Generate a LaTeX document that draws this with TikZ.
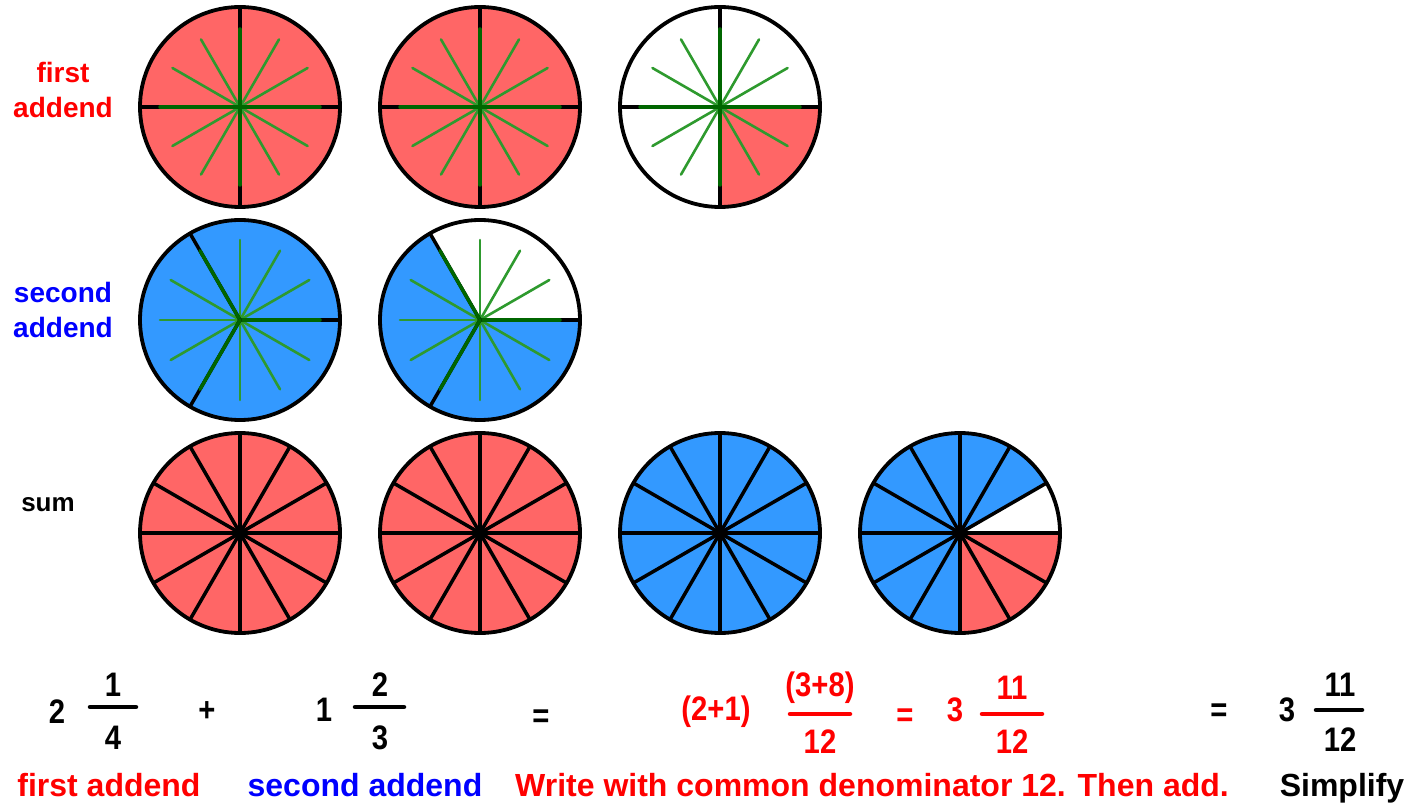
\documentclass[tikz,border=0pt]{standalone}
\usepackage{fontspec}
\setmainfont{Liberation Sans}
\newfontfamily\eqfont[FakeStretch=0.86]{Liberation Sans}
\usetikzlibrary{arrows.meta,calc,positioning}
\definecolor{pie-red}{HTML}{FF6666}
\definecolor{pie-blue}{HTML}{3399FF}
\definecolor{pie-green}{HTML}{2E9A2E}
\definecolor{pie-dkgreen}{HTML}{006600}
\definecolor{txt-red}{HTML}{FF0000}
\definecolor{txt-blue}{HTML}{0000FF}

\begin{document}
\begin{tikzpicture}[x=1pt,y=1pt,line cap=round,
  rim/.style={line width=3.8pt},
  spoke/.style={pie-green,line width=2.6pt},
  axis/.style={pie-dkgreen,line width=3.5pt},
  cut/.style={line width=3.5pt},
  side/.style={font=\bfseries\fontsize{28}{35}\selectfont,inner sep=0pt,align=center},
  num/.style={font=\eqfont\bfseries\fontsize{34}{36}\selectfont,inner sep=0pt},
  note/.style={font=\bfseries\fontsize{32}{34}\selectfont,inner sep=0pt,anchor=base},
  bar/.style={line width=4.5pt}]
  \useasboundingbox (0,0) rectangle (1411,807);
  \def\rr{100}

  % Mittelpunkte der Kreise
  \coordinate (A1) at (240,700);
  \coordinate (A2) at (480,700);
  \coordinate (A3) at (720,700);
  \coordinate (B1) at (240,487);
  \coordinate (B2) at (480,487);
  \foreach \i/\x in {1/240,2/480,3/720,4/960}
    \coordinate (S\i) at (\x,274);

  % Erster Summand: Viertel
  \foreach \c in {A1,A2} \fill[pie-red] (\c) circle (\rr);
  \fill[pie-red] (A3) -- ++(-90:\rr) arc[start angle=-90,end angle=0,radius=\rr] -- cycle;
  \foreach \c in {A1,A2,A3} {
    \foreach \a in {30,60,120,150,210,240,300,330}
      \draw[spoke] (\c) -- ++(\a:78);
    \draw[cut] ($(\c)+(-\rr,0)$) -- ($(\c)+(\rr,0)$);
    \draw[cut] ($(\c)+(0,-\rr)$) -- ($(\c)+(0,\rr)$);
    \draw[axis] ($(\c)+(-80,0)$) -- ($(\c)+(80,0)$);
    \draw[axis] ($(\c)+(0,-78)$) -- ($(\c)+(0,78)$);
    \draw[rim] (\c) circle (\rr);
  }

  % Zweiter Summand: Drittel
  \fill[pie-blue] (B1) circle (\rr);
  \fill[pie-blue] (B2) -- ++(120:\rr) arc[start angle=120,end angle=360,radius=\rr] -- cycle;
  \foreach \c in {B1,B2} {
    \foreach \a in {30,60,...,330}
      \draw[spoke] (\c) -- ++(\a:80);
    \foreach \a in {0,120,240} {
      \draw[cut] (\c) -- ++(\a:\rr);
      \draw[axis] (\c) -- ++(\a:80);
    }
    \draw[rim] (\c) circle (\rr);
  }

  % Summe in Zwoelfteln
  \foreach \c in {S1,S2} \fill[pie-red] (\c) circle (\rr);
  \fill[pie-blue] (S3) circle (\rr);
  \fill[pie-blue] (S4) -- ++(30:\rr) arc[start angle=30,end angle=270,radius=\rr] -- cycle;
  \fill[pie-red] (S4) -- ++(-90:\rr) arc[start angle=-90,end angle=0,radius=\rr] -- cycle;
  \foreach \c in {S1,S2,S3,S4} {
    \foreach \a in {0,30,...,330}
      \draw[cut] (\c) -- ++(\a:\rr);
    \fill (\c) circle (5);
    \draw[rim] (\c) circle (\rr);
  }

  % Beschriftung links
  \node[side,text=txt-red] (lab-first) at (63,717) {first\\addend};
  \node[side,text=txt-blue] (lab-second) at (63,497) {second\\addend};
  \node[side,font=\bfseries\fontsize{26}{30}\selectfont] (lab-sum) at (48,302) {sum};

  % Rechnung
  \node[num] (w1) at (57,95) {2};
  \node[num] (n1) at (113,122) {1};
  \node[num] (d1) at (113,69) {4};
  \draw[bar] (90,100) -- (136,100);
  \node[num] (plus) at (207,95) {+};
  \node[num] (w2) at (324,97) {1};
  \node[num] (n2) at (380,122) {2};
  \node[num] (d2) at (380,69) {3};
  \draw[bar] (355,100) -- (404,100);
  \node[num] (eq1) at (541,88) {=};

  \begin{scope}[txt-red]
    \node[num] (w3) at (716,95) {(2+1)};
    \node[num] (n3) at (820,119) {(3+8)};
    \node[num] (d3) at (820,65) {12};
    \draw[bar] (790,93) -- (850,93);
    \node[num] (eq2) at (905,89) {=};
    \node[num] (w4) at (955,97) {3};
    \node[num] (n4) at (1012,119) {11};
    \node[num] (d4) at (1012,65) {12};
    \draw[bar] (982,93) -- (1042,93);
  \end{scope}

  \node[num] (eq3) at (1219,94) {=};
  \node[num] (w5) at (1287,97) {3};
  \node[num] (n5) at (1340,122) {11};
  \node[num] (d5) at (1340,67) {12};
  \draw[bar] (1316,97) -- (1362,97);

  % Erklaerungen unten
  \node[note,text=txt-red] (cap-first) at (109,11) {first addend};
  \node[note,text=txt-blue] (cap-second) at (365,11) {second addend};
  \node[note,text=txt-red] (cap-common) at (872,11) {Write with common denominator 12. Then add.};
  \node[note] (cap-simp) at (1342,11) {Simplify};
\end{tikzpicture}
\end{document}
